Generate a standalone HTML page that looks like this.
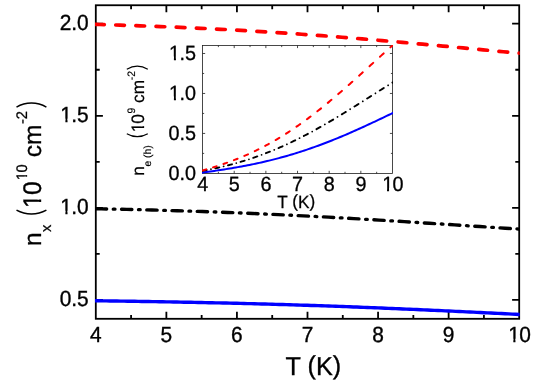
<!DOCTYPE html>
<html><head><meta charset="utf-8"><title>chart</title>
<style>html,body{margin:0;padding:0;background:#fff;}body{width:545px;height:385px;overflow:hidden;font-family:"Liberation Sans", sans-serif;}svg{display:block;will-change:transform;font-family:"Liberation Sans", sans-serif;}svg text{font-family:"Liberation Sans", sans-serif;}</style></head>
<body>
<svg width="545" height="385" viewBox="0 0 545 385" text-rendering="geometricPrecision">
<rect x="0" y="0" width="545" height="385" fill="#fff"/>
<defs>
<clipPath id="cm"><rect x="95.0" y="4.25" width="424.70000000000005" height="315.55"/></clipPath>
<clipPath id="ci"><rect x="202.0" y="44.95" width="191.04999999999998" height="129.0"/></clipPath>
</defs>
<g stroke="#000" stroke-width="1.8" fill="none" stroke-linecap="butt">
<rect x="95.8" y="5.25" width="423.40000000000003" height="313.55"/>
<path d="M131.08,318.8 v-3.9 M131.08,5.25 v3.9 M166.37,318.8 v-7.1 M166.37,5.25 v7.1 M201.65,318.8 v-3.9 M201.65,5.25 v3.9 M236.93,318.8 v-7.1 M236.93,5.25 v7.1 M272.22,318.8 v-3.9 M272.22,5.25 v3.9 M307.50,318.8 v-7.1 M307.50,5.25 v7.1 M342.78,318.8 v-3.9 M342.78,5.25 v3.9 M378.07,318.8 v-7.1 M378.07,5.25 v7.1 M413.35,318.8 v-3.9 M413.35,5.25 v3.9 M448.63,318.8 v-7.1 M448.63,5.25 v7.1 M483.92,318.8 v-3.9 M483.92,5.25 v3.9 M95.8,299.95 h7.1 M519.2,299.95 h-7.1 M95.8,253.91 h3.9 M519.2,253.91 h-3.9 M95.8,207.88 h7.1 M519.2,207.88 h-7.1 M95.8,161.84 h3.9 M519.2,161.84 h-3.9 M95.8,115.80 h7.1 M519.2,115.80 h-7.1 M95.8,69.76 h3.9 M519.2,69.76 h-3.9 M95.8,23.72 h7.1 M519.2,23.72 h-7.1 "/>
</g>
<g clip-path="url(#cm)" fill="none">
<path d="M92.27,300.68 L95.80,300.73 L99.33,300.78 L102.86,300.83 L106.39,300.89 L109.91,300.94 L113.44,300.99 L116.97,301.04 L120.50,301.10 L124.03,301.15 L127.56,301.21 L131.08,301.26 L134.61,301.32 L138.14,301.37 L141.67,301.43 L145.20,301.49 L148.72,301.55 L152.25,301.61 L155.78,301.67 L159.31,301.73 L162.84,301.79 L166.37,301.85 L169.90,301.91 L173.42,301.98 L176.95,302.04 L180.48,302.11 L184.01,302.18 L187.54,302.24 L191.07,302.31 L194.59,302.38 L198.12,302.46 L201.65,302.53 L205.18,302.60 L208.71,302.68 L212.24,302.75 L215.76,302.83 L219.29,302.91 L222.82,302.99 L226.35,303.07 L229.88,303.15 L233.41,303.24 L236.93,303.32 L240.46,303.41 L243.99,303.49 L247.52,303.58 L251.05,303.67 L254.57,303.77 L258.10,303.86 L261.63,303.95 L265.16,304.05 L268.69,304.15 L272.22,304.25 L275.75,304.35 L279.27,304.45 L282.80,304.55 L286.33,304.66 L289.86,304.76 L293.39,304.87 L296.92,304.98 L300.44,305.09 L303.97,305.20 L307.50,305.32 L311.03,305.43 L314.56,305.55 L318.09,305.67 L321.61,305.79 L325.14,305.91 L328.67,306.03 L332.20,306.16 L335.73,306.28 L339.26,306.41 L342.78,306.54 L346.31,306.67 L349.84,306.80 L353.37,306.93 L356.90,307.06 L360.43,307.20 L363.95,307.34 L367.48,307.48 L371.01,307.61 L374.54,307.76 L378.07,307.90 L381.60,308.04 L385.12,308.19 L388.65,308.33 L392.18,308.48 L395.71,308.63 L399.24,308.78 L402.77,308.93 L406.29,309.08 L409.82,309.24 L413.35,309.39 L416.88,309.55 L420.41,309.71 L423.94,309.86 L427.46,310.02 L430.99,310.18 L434.52,310.34 L438.05,310.51 L441.58,310.67 L445.10,310.83 L448.63,311.00 L452.16,311.16 L455.69,311.33 L459.22,311.50 L462.75,311.67 L466.28,311.83 L469.80,312.00 L473.33,312.17 L476.86,312.35 L480.39,312.52 L483.92,312.69 L487.45,312.86 L490.97,313.03 L494.50,313.21 L498.03,313.38 L501.56,313.55 L505.09,313.73 L508.62,313.90 L512.14,314.08 L515.67,314.25 L519.20,314.43 L522.73,314.60" stroke="#0000ff" stroke-width="3.4" stroke-linejoin="round"/>
<path d="M96.34,208.78 L101.49,208.88 L106.64,208.98 M121.57,209.29 L126.72,209.40 L131.87,209.52 M146.80,209.88 L151.95,210.02 L157.10,210.15 M172.03,210.58 L177.18,210.73 L182.33,210.89 M197.26,211.37 L202.41,211.54 L207.56,211.72 M222.49,212.26 L227.64,212.46 L232.79,212.66 M247.72,213.26 L252.87,213.48 L258.02,213.70 M272.95,214.37 L278.10,214.61 L283.25,214.86 M298.18,215.58 L303.33,215.84 L308.48,216.11 M323.41,216.90 L328.56,217.17 L333.71,217.46 M348.64,218.30 L353.79,218.59 L358.94,218.89 M373.87,219.78 L379.02,220.09 L384.17,220.40 M399.10,221.32 L404.25,221.65 L409.40,221.97 M424.33,222.93 L429.48,223.26 L434.63,223.59 M449.56,224.56 L454.71,224.90 L459.86,225.24 M474.79,226.21 L479.94,226.55 L485.09,226.89 M500.02,227.86 L505.17,228.19 L510.32,228.52" stroke="#000" stroke-width="3.4" stroke-linecap="round" stroke-linejoin="round"/>
<path d="M113.26,209.11 L114.96,209.15 M138.49,209.68 L140.19,209.72 M163.72,210.34 L165.42,210.38 M188.95,211.09 L190.65,211.15 M214.18,211.95 L215.88,212.02 M239.41,212.92 L241.11,212.99 M264.63,214.00 L266.34,214.07 M289.87,215.17 L291.57,215.26 M315.10,216.45 L316.80,216.54 M340.32,217.82 L342.03,217.92 M365.56,219.28 L367.26,219.38 M390.79,220.81 L392.49,220.91 M416.01,222.39 L417.72,222.50 M441.25,224.02 L442.95,224.13 M466.48,225.67 L468.18,225.78 M491.71,227.32 L493.41,227.43 M516.94,228.95 L518.64,229.06" stroke="#000" stroke-width="3.3" stroke-linecap="round" stroke-linejoin="round"/>
<path d="M95.55,24.40 L99.90,24.52 L104.25,24.65 M115.72,25.01 L120.07,25.15 L124.42,25.29 M135.89,25.67 L140.24,25.82 L144.59,25.98 M156.06,26.40 L160.41,26.57 L164.76,26.74 M176.23,27.21 L180.58,27.39 L184.93,27.58 M196.40,28.10 L200.75,28.30 L205.10,28.51 M216.57,29.07 L220.92,29.29 L225.27,29.52 M236.74,30.14 L241.09,30.38 L245.44,30.63 M256.91,31.31 L261.26,31.57 L265.61,31.84 M277.08,32.57 L281.43,32.85 L285.78,33.14 M297.25,33.92 L301.60,34.23 L305.95,34.54 M317.42,35.37 L321.77,35.69 L326.12,36.02 M337.59,36.91 L341.94,37.25 L346.29,37.60 M357.76,38.53 L362.11,38.89 L366.46,39.25 M377.93,40.22 L382.28,40.60 L386.63,40.97 M398.10,41.98 L402.45,42.37 L406.80,42.76 M418.27,43.80 L422.62,44.19 L426.97,44.59 M438.44,45.65 L442.79,46.06 L447.14,46.46 M458.61,47.53 L462.96,47.94 L467.31,48.35 M478.78,49.43 L483.13,49.84 L487.48,50.24 M498.95,51.32 L503.30,51.72 L507.65,52.12 M519.12,53.18 L523.47,53.57 L527.82,53.97" stroke="#ff0000" stroke-width="3.7" stroke-linecap="round" stroke-linejoin="round"/>
</g>
<g fill="#000">
<text transform="translate(89.99 342.10) scale(1 1.05)" font-size="20.9" stroke="#000" stroke-width="0.35">4</text>
<text transform="translate(160.55 342.10) scale(1 1.05)" font-size="20.9" stroke="#000" stroke-width="0.35">5</text>
<text transform="translate(231.12 342.10) scale(1 1.05)" font-size="20.9" stroke="#000" stroke-width="0.35">6</text>
<text transform="translate(301.69 342.10) scale(1 1.05)" font-size="20.9" stroke="#000" stroke-width="0.35">7</text>
<text transform="translate(372.25 342.10) scale(1 1.05)" font-size="20.9" stroke="#000" stroke-width="0.35">8</text>
<text transform="translate(442.82 342.10) scale(1 1.05)" font-size="20.9" stroke="#000" stroke-width="0.35">9</text>
<text transform="translate(507.58 342.10) scale(1 1.05)" font-size="20.9" stroke="#000" stroke-width="0.35"><tspan dx="0.63">1</tspan><tspan dx="-0.63">0</tspan></text><rect x="508.52" y="338.76" width="4.79" height="4.94" fill="#fff"/><rect x="515.46" y="338.76" width="4.36" height="4.94" fill="#fff"/>
<text transform="translate(59.65 306.15) scale(1 1.05)" font-size="20.9" stroke="#000" stroke-width="0.35">0.5</text>
<text transform="translate(59.65 214.07) scale(1 1.05)" font-size="20.9" stroke="#000" stroke-width="0.35"><tspan dx="0.63">1</tspan><tspan dx="-0.63">.</tspan>0</text><rect x="60.59" y="210.74" width="4.79" height="4.94" fill="#fff"/><rect x="67.53" y="210.74" width="4.36" height="4.94" fill="#fff"/>
<text transform="translate(59.65 122.00) scale(1 1.05)" font-size="20.9" stroke="#000" stroke-width="0.35"><tspan dx="0.63">1</tspan><tspan dx="-0.63">.</tspan>5</text><rect x="60.59" y="118.66" width="4.79" height="4.94" fill="#fff"/><rect x="67.53" y="118.66" width="4.36" height="4.94" fill="#fff"/>
<text transform="translate(59.65 29.92) scale(1 1.05)" font-size="20.9" stroke="#000" stroke-width="0.35">2.0</text>
</g>
<text transform="translate(285.60 374.90) scale(1 1.03)" font-size="25.2" stroke="#000" stroke-width="0.35">T <tspan dy="-0.90">(</tspan><tspan dy="0.90">K</tspan><tspan dy="-0.90">)</tspan></text>
<g transform="translate(41.15,246.0) rotate(-90)" fill="#000">
<text x="0.00" y="0.00" font-size="24.5" stroke="#000" stroke-width="0.3">n</text>
<text x="14.05" y="10.30" font-size="14.6" stroke="#000" stroke-width="0.25">x</text>
<text transform="translate(37.30 0.00) scale(1 1.04)" font-size="24.5" stroke="#000" stroke-width="0.35"><tspan dx="0.73">1</tspan><tspan dx="-0.73">0</tspan></text><rect x="38.40" y="-3.60" width="5.64" height="5.20" fill="#fff"/><rect x="46.51" y="-3.60" width="5.14" height="5.20" fill="#fff"/>
<text transform="translate(65.30 -13.80) scale(1 1.04)" font-size="14.7" stroke="#000" stroke-width="0.25"><tspan dx="0.44">1</tspan><tspan dx="-0.44">0</tspan></text><rect x="65.96" y="-16.64" width="3.33" height="4.44" fill="#fff"/><rect x="70.89" y="-16.64" width="3.03" height="4.44" fill="#fff"/>
<text x="88.80" y="0.00" font-size="24.5" stroke="#000" stroke-width="0.3">cm</text>
<text transform="translate(121.90 -13.80) scale(1 1.04)" font-size="14.7" stroke="#000" stroke-width="0.25">-2</text>
</g>
<path d="M16.50,210.20 A31.31,31.31 0 0,0 46.40,210.20" fill="none" stroke="#000" stroke-width="1.5" stroke-linecap="butt"/>
<path d="M16.50,107.10 A29.94,29.94 0 0,1 46.40,107.10" fill="none" stroke="#000" stroke-width="1.5" stroke-linecap="butt"/>
<g stroke="#1c1c1c" stroke-width="0.8" fill="none">
<rect x="202.55" y="45.5" width="189.95" height="127.9"/>
<path d="M218.38,173.4 v-1.6 M218.38,45.5 v1.6 M234.21,173.4 v-2.6 M234.21,45.5 v2.6 M250.04,173.4 v-1.6 M250.04,45.5 v1.6 M265.87,173.4 v-2.6 M265.87,45.5 v2.6 M281.70,173.4 v-1.6 M281.70,45.5 v1.6 M297.52,173.4 v-2.6 M297.52,45.5 v2.6 M313.35,173.4 v-1.6 M313.35,45.5 v1.6 M329.18,173.4 v-2.6 M329.18,45.5 v2.6 M345.01,173.4 v-1.6 M345.01,45.5 v1.6 M360.84,173.4 v-2.6 M360.84,45.5 v2.6 M376.67,173.4 v-1.6 M376.67,45.5 v1.6 M202.55,153.42 h1.6 M392.5,153.42 h-1.6 M202.55,133.43 h2.6 M392.5,133.43 h-2.6 M202.55,113.45 h1.6 M392.5,113.45 h-1.6 M202.55,93.46 h2.6 M392.5,93.46 h-2.6 M202.55,73.48 h1.6 M392.5,73.48 h-1.6 M202.55,53.49 h2.6 M392.5,53.49 h-2.6 "/>
</g>
<g clip-path="url(#ci)" fill="none">
<path d="M200.55,172.90 L202.51,172.62 L204.47,172.35 L206.43,172.07 L208.39,171.78 L210.35,171.50 L212.30,171.21 L214.26,170.92 L216.22,170.63 L218.18,170.34 L220.14,170.04 L222.10,169.74 L224.06,169.43 L226.02,169.12 L227.98,168.80 L229.94,168.48 L231.90,168.15 L233.85,167.82 L235.81,167.48 L237.77,167.13 L239.73,166.78 L241.69,166.42 L243.65,166.06 L245.61,165.68 L247.57,165.30 L249.53,164.92 L251.49,164.52 L253.45,164.12 L255.40,163.71 L257.36,163.29 L259.32,162.86 L261.28,162.43 L263.24,161.98 L265.20,161.53 L267.16,161.07 L269.12,160.60 L271.08,160.12 L273.04,159.63 L275.00,159.13 L276.95,158.62 L278.91,158.10 L280.87,157.58 L282.83,157.04 L284.79,156.49 L286.75,155.94 L288.71,155.37 L290.67,154.80 L292.63,154.21 L294.59,153.62 L296.55,153.01 L298.50,152.40 L300.46,151.77 L302.42,151.14 L304.38,150.49 L306.34,149.84 L308.30,149.17 L310.26,148.50 L312.22,147.81 L314.18,147.12 L316.14,146.42 L318.10,145.71 L320.05,144.98 L322.01,144.25 L323.97,143.51 L325.93,142.76 L327.89,142.00 L329.85,141.24 L331.81,140.46 L333.77,139.68 L335.73,138.88 L337.69,138.08 L339.65,137.27 L341.60,136.46 L343.56,135.63 L345.52,134.80 L347.48,133.96 L349.44,133.11 L351.40,132.25 L353.36,131.39 L355.32,130.53 L357.28,129.65 L359.24,128.77 L361.20,127.88 L363.15,126.99 L365.11,126.09 L367.07,125.19 L369.03,124.28 L370.99,123.37 L372.95,122.46 L374.91,121.54 L376.87,120.61 L378.83,119.69 L380.79,118.76 L382.75,117.82 L384.70,116.89 L386.66,115.95 L388.62,115.01 L390.58,114.07 L392.54,113.13 L394.50,112.19" stroke="#0000ff" stroke-width="2.0" stroke-linejoin="round"/>
<path d="M202.64,170.81 L203.98,170.57 L205.31,170.32 L206.64,170.07 M215.30,168.31 L216.63,168.02 L217.96,167.73 L219.30,167.43 M227.95,165.35 L229.28,165.00 L230.62,164.66 L231.95,164.30 M240.60,161.86 L241.94,161.46 L243.27,161.06 L244.60,160.65 M253.26,157.82 L254.59,157.36 L255.92,156.90 L257.26,156.43 M265.91,153.21 L267.24,152.69 L268.58,152.16 L269.91,151.63 M278.56,148.02 L279.90,147.44 L281.23,146.85 L282.56,146.26 M291.21,142.26 L292.55,141.62 L293.88,140.97 L295.21,140.32 M303.87,135.96 L305.20,135.26 L306.53,134.57 L307.87,133.86 M316.52,129.17 L317.85,128.42 L319.19,127.68 L320.52,126.93 M329.17,121.94 L330.51,121.16 L331.84,120.37 L333.17,119.58 M341.83,114.37 L343.16,113.55 L344.49,112.73 L345.83,111.91 M354.48,106.53 L355.81,105.69 L357.15,104.85 L358.48,104.01 M367.13,98.54 L368.47,97.69 L369.80,96.85 L371.13,96.00 M379.79,90.53 L381.12,89.69 L382.45,88.85 L383.79,88.01 M392.44,82.63 L393.77,81.82 L395.11,81.00 L396.44,80.19" stroke="#000" stroke-width="1.9" stroke-linecap="round" stroke-linejoin="round"/>
<path d="M198.32,171.57 L198.33,171.57 M210.97,169.22 L210.98,169.21 M223.62,166.42 L223.63,166.41 M236.28,163.11 L236.29,163.11 M248.93,159.27 L248.94,159.27 M261.58,154.85 L261.59,154.85 M274.24,149.86 L274.25,149.85 M286.89,144.29 L286.90,144.28 M299.54,138.17 L299.55,138.16 M312.19,131.54 L312.20,131.54 M324.85,124.46 L324.86,124.45 M337.50,116.99 L337.51,116.98 M350.15,109.23 L350.16,109.22 M362.81,101.28 L362.82,101.27 M375.46,93.26 L375.47,93.25 M388.11,85.31 L388.12,85.30" stroke="#000" stroke-width="1.75" stroke-linecap="round" stroke-linejoin="round"/>
<path d="M202.60,170.44 L203.82,170.09 L205.04,169.75 L206.25,169.39 M213.04,167.36 L214.25,166.98 L215.47,166.60 L216.69,166.21 M223.47,163.95 L224.69,163.53 L225.90,163.10 L227.12,162.67 M233.91,160.15 L235.12,159.68 L236.34,159.20 L237.55,158.72 M244.34,155.89 L245.56,155.37 L246.77,154.83 L247.99,154.29 M254.77,151.14 L255.99,150.55 L257.21,149.95 L258.42,149.35 M265.21,145.85 L266.42,145.20 L267.64,144.54 L268.86,143.88 M275.64,140.02 L276.86,139.30 L278.07,138.58 L279.29,137.85 M286.07,133.63 L287.29,132.85 L288.51,132.06 L289.72,131.26 M296.51,126.69 L297.73,125.85 L298.94,125.00 L300.16,124.14 M306.94,119.23 L308.16,118.33 L309.38,117.42 L310.59,116.50 M317.38,111.27 L318.59,110.32 L319.81,109.35 L321.03,108.38 M327.81,102.87 L329.03,101.87 L330.24,100.85 L331.46,99.84 M338.25,94.08 L339.46,93.04 L340.68,91.99 L341.89,90.93 M348.68,84.98 L349.90,83.90 L351.11,82.82 L352.33,81.74 M359.11,75.65 L360.33,74.56 L361.55,73.46 L362.76,72.36 M369.55,66.20 L370.76,65.09 L371.98,63.99 L373.20,62.88 M379.98,56.73 L381.20,55.63 L382.41,54.53 L383.63,53.43 M390.42,47.36 L391.63,46.29 L392.85,45.21 L394.06,44.14" stroke="#ff0000" stroke-width="2.0" stroke-linecap="round" stroke-linejoin="round"/>
</g>
<g fill="#000">
<text transform="translate(197.14 191.10) scale(1 1.04)" font-size="19.8" stroke="#000" stroke-width="0.3">4</text>
<text transform="translate(228.80 191.10) scale(1 1.04)" font-size="19.8" stroke="#000" stroke-width="0.3">5</text>
<text transform="translate(260.46 191.10) scale(1 1.04)" font-size="19.8" stroke="#000" stroke-width="0.3">6</text>
<text transform="translate(292.12 191.10) scale(1 1.04)" font-size="19.8" stroke="#000" stroke-width="0.3">7</text>
<text transform="translate(323.78 191.10) scale(1 1.04)" font-size="19.8" stroke="#000" stroke-width="0.3">8</text>
<text transform="translate(355.44 191.10) scale(1 1.04)" font-size="19.8" stroke="#000" stroke-width="0.3">9</text>
<text transform="translate(381.59 191.10) scale(1 1.04)" font-size="19.8" stroke="#000" stroke-width="0.3"><tspan dx="0.59">1</tspan><tspan dx="-0.59">0</tspan></text><rect x="382.48" y="187.86" width="4.53" height="4.84" fill="#fff"/><rect x="389.06" y="187.86" width="4.13" height="4.84" fill="#fff"/>
<text transform="translate(168.48 179.60) scale(1 1.04)" font-size="19.8" stroke="#000" stroke-width="0.3">0.0</text>
<text transform="translate(168.48 139.63) scale(1 1.04)" font-size="19.8" stroke="#000" stroke-width="0.3">0.5</text>
<text transform="translate(168.48 99.66) scale(1 1.04)" font-size="19.8" stroke="#000" stroke-width="0.3"><tspan dx="0.59">1</tspan><tspan dx="-0.59">.</tspan>0</text><rect x="169.37" y="96.42" width="4.53" height="4.84" fill="#fff"/><rect x="175.95" y="96.42" width="4.13" height="4.84" fill="#fff"/>
<text transform="translate(168.48 59.69) scale(1 1.04)" font-size="19.8" stroke="#000" stroke-width="0.3"><tspan dx="0.59">1</tspan><tspan dx="-0.59">.</tspan>5</text><rect x="169.37" y="56.46" width="4.53" height="4.84" fill="#fff"/><rect x="175.95" y="56.46" width="4.13" height="4.84" fill="#fff"/>
</g>
<text transform="translate(277.30 207.50) scale(1 1.03)" font-size="17.2" stroke="#000" stroke-width="0.25">T <tspan dy="-0.40">(</tspan><tspan dy="0.40">K</tspan><tspan dy="-0.40">)</tspan></text>
<g transform="translate(143.8,176.2) rotate(-90)" fill="#000">
<text x="0.36" y="0.00" font-size="17.3" stroke="#000" stroke-width="0.25">n</text>
<text x="9.66" y="6.80" font-size="10.4" stroke="#000" stroke-width="0.15">e (h)</text>
<text transform="translate(42.87 0.00) scale(1 1.04)" font-size="17.3" stroke="#000" stroke-width="0.25"><tspan dx="1.12">1</tspan><tspan dx="-1.12">0</tspan></text><rect x="44.25" y="-3.04" width="3.94" height="4.64" fill="#fff"/><rect x="50.03" y="-3.04" width="3.59" height="4.64" fill="#fff"/>
<text transform="translate(62.70 -9.10) scale(1 1.04)" font-size="10.4" stroke="#000" stroke-width="0.15">9</text>
<text x="73.20" y="0.00" font-size="17.3" stroke="#000" stroke-width="0.25">cm</text>
<text transform="translate(95.90 -9.10) scale(1 1.04)" font-size="10.4" stroke="#000" stroke-width="0.15">-2</text>
</g>
<path d="M126.80,133.65 A21.09,21.09 0 0,0 147.80,133.65" fill="none" stroke="#000" stroke-width="1.15" stroke-linecap="butt"/>
<path d="M126.80,69.20 A21.09,21.09 0 0,1 147.80,69.20" fill="none" stroke="#000" stroke-width="1.15" stroke-linecap="butt"/>
</svg>
</body></html>
